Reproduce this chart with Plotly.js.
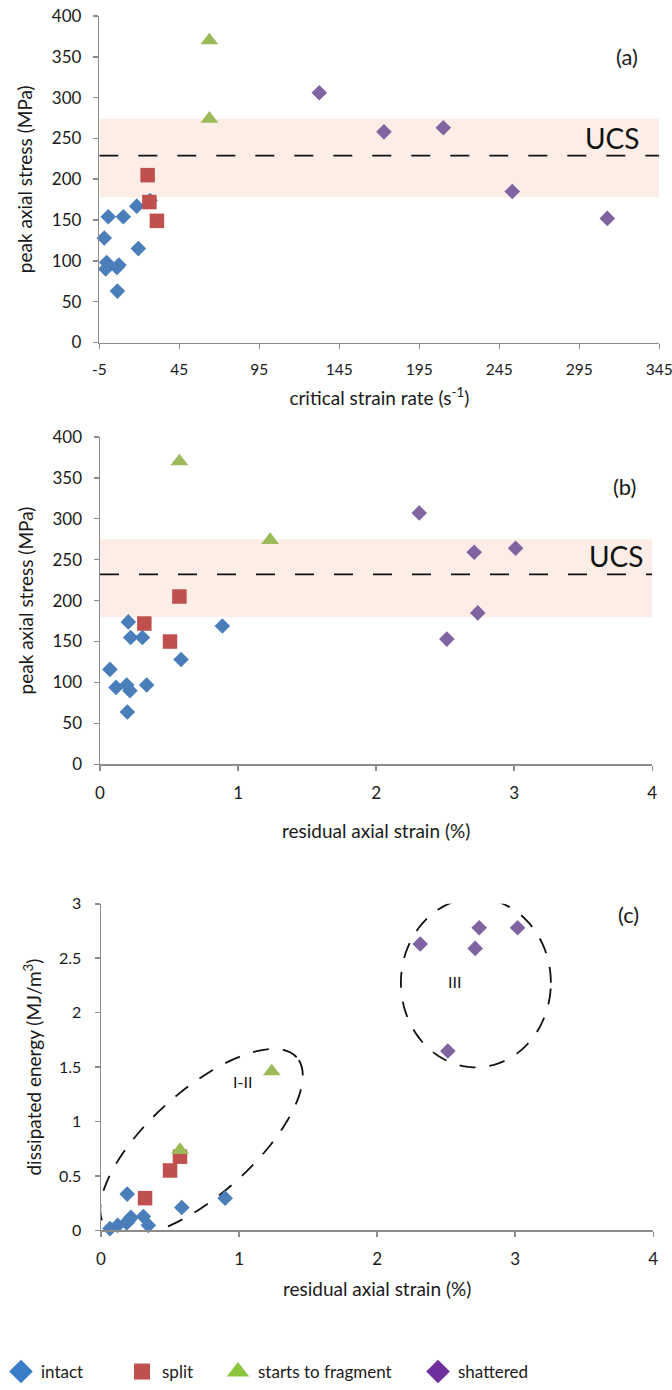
<!DOCTYPE html>
<html>
<head>
<meta charset="utf-8">
<script src="https://cdn.plot.ly/plotly-3.0.1.min.js"></script>
<style>html,body{margin:0;padding:0;background:#fff;}#chart{width:672px;height:1390px;}</style>
</head>
<body>
<div id="chart"></div>
<script>
// ---------- DATA ----------
const seriesNames = ['intact', 'split', 'starts to fragment', 'shattered'];

// panel (a): critical strain rate (s-1) vs peak axial stress (MPa)
const intactRateA   = [0.6, 10, 18.4, 26.7, -1.9, 19.4, -0.4, -1, 7.3, 6, 6.3];
const intactStressA = [154, 154, 167, 174, 128, 115, 98, 90, 95, 92, 63];
const splitRateA    = [25.2, 26.3, 31];
const splitStressA  = [205, 172, 149];
const fragRateA     = [63.8, 63.8];
const fragStressA   = [370, 274];
const shatRateA     = [132.5, 172.9, 210, 253.1, 312.5];
const shatStressA   = [306, 258, 263, 185, 152];

// panel (b): residual axial strain (%) vs peak axial stress (MPa)
const intactStrainB = [0.072, 0.116, 0.193, 0.217, 0.198, 0.205, 0.222, 0.307, 0.338, 0.587, 0.886];
const intactStressB = [116, 94, 97, 90, 64, 174, 155, 155, 97, 128, 169];
const splitStrainB  = [0.321, 0.575, 0.507];
const splitStressB  = [172, 205, 150];
const fragStrainB   = [0.575, 1.232];
const fragStressB   = [370, 274];
const shatStrainB   = [2.312, 2.71, 3.01, 2.736, 2.512];
const shatStressB   = [307, 259, 264, 185, 153];

// panel (c): residual axial strain (%) vs dissipated energy (MJ/m3)
const intactStrainC = [0.065, 0.121, 0.19, 0.186, 0.2, 0.217, 0.205, 0.307, 0.343, 0.585, 0.899];
const intactEnergyC = [0.016, 0.046, 0.333, 0.067, 0.09, 0.119, 0.1, 0.128, 0.046, 0.21, 0.296];
const splitStrainC  = [0.319, 0.5, 0.572];
const splitEnergyC  = [0.296, 0.55, 0.677];
const fragStrainC   = [0.572, 1.237];
const fragEnergyC   = [0.738, 1.46];
const shatStrainC   = [2.312, 2.739, 3.017, 2.71, 2.512];
const shatEnergyC   = [2.63, 2.78, 2.78, 2.59, 1.647];

// reference values
const ucsA = 229, ucsBandA = [178, 274];
const ucsB = 232, ucsBandB = [180, 275];

// tick labels
const rateTickVals = [-5, 45, 95, 145, 195, 245, 295, 345];
const rateTickText = ['-5', '45', '95', '145', '195', '245', '295', '345'];

// ---------- STYLE ----------
const W = 672, H = 1390;
const FONT = 'Lato, "Open Sans", sans-serif';
const colors = ['#4A7EBB', '#C0504D', '#9BBB59', '#8064A2'];
const legendColors = ['#3A7DC8', '#C0504D', '#8CC63F', '#6F2E9C'];
const symbols = ['diamond', 'square', 'triangle-up', 'diamond'];
const sizes = [12, 14.5, 15.5, 12];
const legendLineWidths = [2, 0, 2, 2];
const axisGray = '#8C8C8C';

function dxr(a, b) { return [a / W, b / W]; }
function dyr(top, bottom) { return [1 - bottom / H, 1 - top / H]; }

const dataA = [[intactRateA, intactStressA], [splitRateA, splitStressA], [fragRateA, fragStressA], [shatRateA, shatStressA]];
const dataB = [[intactStrainB, intactStressB], [splitStrainB, splitStressB], [fragStrainB, fragStressB], [shatStrainB, shatStressB]];
const dataC = [[intactStrainC, intactEnergyC], [splitStrainC, splitEnergyC], [fragStrainC, fragEnergyC], [shatStrainC, shatEnergyC]];

const traces = [];
[[dataA, 'x', 'y'], [dataB, 'x2', 'y2'], [dataC, 'x3', 'y3']].forEach(([d, xa, ya]) => {
  d.forEach((s, i) => {
    traces.push({
      type: 'scatter', mode: 'markers', x: s[0], y: s[1], xaxis: xa, yaxis: ya,
      name: seriesNames[i], showlegend: false, cliponaxis: false,
      marker: { symbol: symbols[i], size: sizes[i], color: colors[i], line: { width: 0 } },
      hoverinfo: 'x+y'
    });
  });
});
// legend entries (one legend box per entry, to place them like the original)
const legendIds = ['legend', 'legend2', 'legend3', 'legend4'];
seriesNames.forEach((n, i) => {
  traces.push({
    type: 'scatter', mode: 'markers', x: [null], y: [null], xaxis: 'x3', yaxis: 'y3',
    name: n, showlegend: true, legend: legendIds[i],
    marker: { symbol: symbols[i], size: 16, color: legendColors[i], line: { width: legendLineWidths[i], color: legendColors[i] } }
  });
});

const tickFont = { family: FONT, size: 17, color: '#1a1a1a' };
const titleFont = { family: FONT, size: 19, color: '#1a1a1a' };
function axisBase(extra) {
  return Object.assign({
    showgrid: false, zeroline: false, showline: true, linecolor: axisGray, linewidth: 1.5,
    ticks: 'outside', ticklen: 5, tickcolor: axisGray, tickwidth: 1.5,
    tickfont: tickFont, fixedrange: true, ticklabeloverflow: 'allow'
  }, extra);
}

function ellipsePath(cx, cy, rxPx, ryPx, angDeg, sx, sy) {
  const th = angDeg * Math.PI / 180;
  let d = '';
  for (let i = 0; i <= 90; i++) {
    const t = i / 90 * 2 * Math.PI;
    const px = rxPx * Math.cos(t) * Math.cos(th) - ryPx * Math.sin(t) * Math.sin(th);
    const py = rxPx * Math.cos(t) * Math.sin(th) + ryPx * Math.sin(t) * Math.cos(th);
    d += (i ? 'L' : 'M') + (cx + px / sx).toFixed(4) + ',' + (cy + py / sy).toFixed(4);
  }
  return d + 'Z';
}

// pixel geometry of panel (c) for the (pixel-shaped) ellipses
const cLeft = 101, cRight = 653.3, cTop = 907.7, cBottom = 1235.7;
const sxC = (cRight - cLeft) / 4, syC = (cBottom - cTop) / 3;

const bandColor = '#FCEEE7';
const shapes = [
  { type: 'rect', xref: 'x', yref: 'y', x0: -5, x1: 345, y0: ucsBandA[0], y1: ucsBandA[1], fillcolor: bandColor, line: { width: 0 }, layer: 'below' },
  { type: 'line', xref: 'x', yref: 'y', x0: -5, x1: 345, y0: ucsA, y1: ucsA, line: { color: '#111', width: 1.8, dash: '19px,20px' }, layer: 'below' },
  { type: 'rect', xref: 'x2', yref: 'y2', x0: 0, x1: 4, y0: ucsBandB[0], y1: ucsBandB[1], fillcolor: bandColor, line: { width: 0 }, layer: 'below' },
  { type: 'line', xref: 'x2', yref: 'y2', x0: 0, x1: 4, y0: ucsB, y1: ucsB, line: { color: '#111', width: 1.8, dash: '19px,20px' }, layer: 'below' },
  { type: 'path', xref: 'x3', yref: 'y3', path: ellipsePath(0.728, 0.807, 128, 52, 42, sxC, syC), line: { color: '#111', width: 1.8, dash: '16px,14px' }, layer: 'below' },
  { type: 'path', xref: 'x3', yref: 'y3', path: ellipsePath(2.715, 2.275, 75, 85, 0, sxC, syC), line: { color: '#111', width: 1.8, dash: '16px,14px' }, layer: 'below' }
];

const annFont = { family: FONT, size: 22, color: '#1a1a1a' };
const annotations = [
  { xref: 'x', yref: 'y', x: 324.6, y: 350, text: '(a)', showarrow: false, font: annFont },
  { xref: 'x', yref: 'y', x: 316, y: 251, text: 'UCS', showarrow: false, font: { family: FONT, size: 28, color: '#111' } },
  { xref: 'x2', yref: 'y2', x: 3.80, y: 339, text: '(b)', showarrow: false, font: annFont },
  { xref: 'x2', yref: 'y2', x: 3.744, y: 255, text: 'UCS', showarrow: false, font: { family: FONT, size: 28, color: '#111' } },
  { xref: 'x3', yref: 'y3', x: 3.817, y: 2.9, text: '(c)', showarrow: false, font: annFont },
  { xref: 'x3', yref: 'y3', x: 1.027, y: 1.363, text: 'I-II', showarrow: false, font: { family: FONT, size: 16, color: '#1a1a1a' } },
  { xref: 'x3', yref: 'y3', x: 2.56, y: 2.287, text: 'III', showarrow: false, font: { family: FONT, size: 16, color: '#1a1a1a' } }
];

const legFont = { family: FONT, size: 17, color: '#1a1a1a' };
function leg(xPx) {
  return { x: xPx / W, y: 1 - 1378 / H, xanchor: 'left', yanchor: 'middle', orientation: 'h',
    font: legFont, bgcolor: 'rgba(0,0,0,0)', borderwidth: 0 };
}

const layout = {
  width: W, height: H, margin: { l: 0, r: 0, t: 0, b: 0 },
  paper_bgcolor: '#fff', plot_bgcolor: 'rgba(0,0,0,0)',
  font: { family: FONT, color: '#1a1a1a' },
  xaxis: axisBase({ domain: dxr(99.3, 659.3), anchor: 'y', range: [-5, 345], tickmode: 'array', tickvals: rateTickVals, ticktext: rateTickText, ticklabelstandoff: 7,
    tickfont: { family: FONT, size: 15.5, color: '#1a1a1a' },
    title: { text: 'critical strain rate (s<sup>-1</sup>)', font: titleFont, standoff: 15 } }),
  yaxis: axisBase({ domain: dyr(16, 344), anchor: 'x', range: [0, 400], dtick: 50, ticklabelstandoff: 8,
    title: { text: 'peak axial stress (MPa)', font: titleFont, standoff: 14 } }),
  xaxis2: axisBase({ domain: dxr(100, 652.3), anchor: 'y2', range: [0, 4], dtick: 1, ticklabelstandoff: 8,
    title: { text: 'residual axial strain (%)', font: titleFont, standoff: 22 } }),
  yaxis2: axisBase({ domain: dyr(438.7, 767.7), anchor: 'x2', range: [0, 400], dtick: 50, ticklabelstandoff: 8,
    title: { text: 'peak axial stress (MPa)', font: titleFont, standoff: 14 } }),
  xaxis3: axisBase({ domain: dxr(cLeft, cRight), anchor: 'y3', range: [0, 4], dtick: 1, ticklabelstandoff: 8,
    title: { text: 'residual axial strain (%)', font: titleFont, standoff: 14 } }),
  yaxis3: axisBase({ domain: dyr(cTop, cBottom), anchor: 'x3', range: [0, 3], dtick: 0.5, ticklabelstandoff: 10,
    tickfont: { family: FONT, size: 16, color: '#1a1a1a' },
    title: { text: 'dissipated energy (MJ/m<sup>3</sup>)', font: titleFont, standoff: 12 } }),
  shapes: shapes,
  annotations: annotations,
  legend: leg(1), legend2: leg(122), legend3: leg(218), legend4: leg(418),
  hovermode: 'closest'
};

Plotly.newPlot('chart', traces, layout, { displayModeBar: false, staticPlot: true });
</script>
</body>
</html>
